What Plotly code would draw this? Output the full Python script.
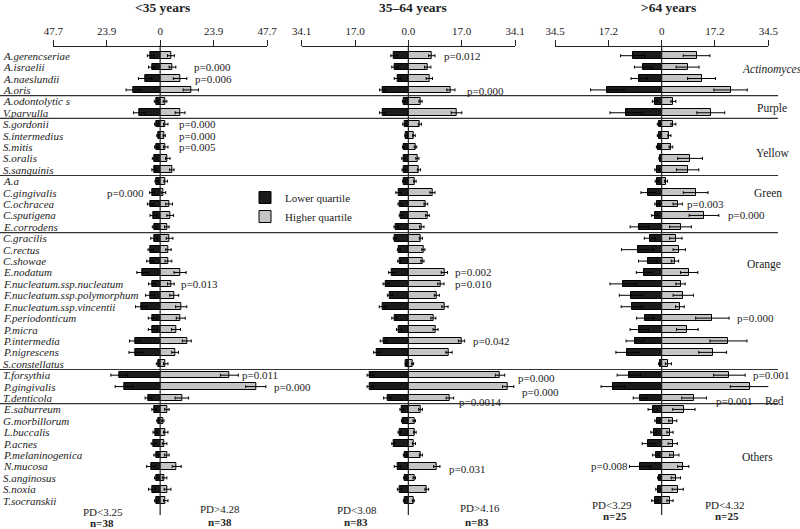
import plotly.graph_objects as go

# ---------------- data ----------------
species = ["A.gerencseriae", "A.israelii", "A.naeslundii", "A.oris", "A.odontolytic s", "V.parvulla",
           "S.gordonii", "S.intermedius", "S.mitis", "S.oralis", "S.sanguinis",
           "A.a", "C.gingivalis", "C.ochracea", "C.sputigena", "E.corrodens",
           "C.gracilis", "C.rectus", "C.showae", "E.nodatum", "F.nucleatum.ssp.nucleatum",
           "F.nucleatum.ssp.polymorphum", "F.nucleatum.ssp.vincentii", "F.periodonticum", "P.micra",
           "P.intermedia", "P.nigrescens", "S.constellatus",
           "T.forsythia", "P.gingivalis", "T.denticola",
           "E.saburreum", "G.morbillorum", "L.buccalis", "P.acnes", "P.melaninogenica", "N.mucosa",
           "S.anginosus", "S.noxia", "T.socranskii"]

group_names = ["Actinomyces", "Purple", "Yellow", "Green", "Orange", "Red", "Others"]
group_sizes = [4, 2, 5, 5, 12, 3, 9]

panel_titles = ["<35 years", "35–64 years", ">64 years"]

# <35 years
lo1 = [4.2, 3.7, 6.7, 11.9, 1.8, 9.2, 1.5, 1.0, 1.5, 2.5, 2.7, 1.5, 3.7, 4.2, 3.0, 2.5, 2.7, 4.2, 4.5, 7.9,
       3.7, 4.5, 8.5, 3.3, 3.3, 11.2, 10.9, 0.7, 18.3, 16.1, 5.2, 2.7, 1.0, 2.2, 3.0, 1.8, 4.0, 1.5, 3.7, 1.5]
hi1 = [4.8, 5.5, 8.9, 13.7, 2.2, 8.9, 2.5, 1.8, 2.5, 3.4, 5.2, 2.5, 1.5, 4.0, 4.5, 3.0, 4.2, 3.7, 3.7, 8.9,
       4.8, 6.3, 9.4, 9.2, 7.1, 11.9, 6.7, 2.5, 30.9, 42.7, 9.7, 3.0, 1.2, 2.5, 2.0, 3.0, 7.4, 2.0, 3.3, 2.5]
lo1_err = [1.5, 1.5, 3.0, 3.3, 0.8, 2.7, 1.0, 0.5, 1.0, 1.0, 1.0, 0.8, 1.0, 1.5, 1.5, 1.0, 1.5, 1.2, 1.5, 2.5,
           1.5, 2.0, 2.5, 2.0, 2.0, 2.5, 3.0, 1.0, 3.7, 4.0, 1.5, 1.0, 0.5, 1.0, 1.0, 1.0, 2.0, 1.0, 1.5, 1.0]
hi1_err = [1.5, 1.5, 3.0, 3.4, 0.8, 2.2, 1.0, 0.5, 1.0, 1.0, 1.0, 0.8, 1.0, 1.5, 1.5, 1.0, 1.5, 1.2, 1.5, 2.7,
           1.5, 2.0, 2.5, 2.0, 2.0, 2.0, 1.5, 1.0, 4.0, 4.5, 3.0, 1.0, 0.5, 1.0, 1.0, 1.0, 2.0, 1.0, 1.5, 1.0]

# 35-64 years
lo2 = [4.6, 4.3, 3.5, 8.2, 1.4, 8.2, 1.3, 0.7, 1.5, 1.6, 1.5, 1.4, 3.2, 2.7, 2.3, 3.9, 4.3, 3.0, 2.9, 5.3,
       7.1, 5.9, 8.3, 4.5, 3.0, 8.0, 10.1, 0.7, 12.2, 12.2, 6.7, 2.1, 1.8, 2.9, 4.8, 1.1, 3.5, 1.1, 2.9, 1.3]
hi2 = [7.5, 6.2, 6.7, 13.6, 3.9, 15.4, 3.7, 1.8, 2.3, 2.9, 3.4, 2.1, 7.7, 5.6, 6.1, 4.3, 4.0, 4.8, 4.5, 11.5,
       10.4, 9.1, 11.7, 8.0, 8.7, 17.0, 13.0, 1.4, 29.3, 31.9, 13.3, 3.9, 1.9, 2.1, 1.8, 4.0, 9.1, 1.9, 5.9, 1.6]
lo2_err = [1.0, 1.0, 1.0, 1.0, 0.5, 1.0, 0.5, 0.4, 0.4, 0.5, 0.5, 0.4, 0.8, 0.6, 0.6, 0.7, 0.5, 0.5, 0.5, 1.0,
           1.0, 0.8, 1.0, 0.8, 0.8, 1.0, 1.0, 0.3, 1.0, 1.0, 1.2, 0.6, 0.4, 0.4, 0.5, 0.5, 1.0, 0.4, 0.6, 0.3]
hi2_err = [1.0, 1.0, 1.0, 1.3, 0.5, 1.7, 0.5, 0.4, 0.4, 0.5, 0.5, 0.4, 0.8, 0.6, 0.6, 0.7, 0.5, 0.5, 0.5, 1.0,
           1.0, 0.8, 1.0, 0.8, 0.8, 1.0, 1.0, 0.3, 1.5, 1.8, 1.2, 0.6, 0.4, 0.4, 0.5, 0.5, 1.0, 0.4, 0.6, 0.3]

# >64 years
lo3 = [9.4, 5.9, 7.2, 17.6, 2.2, 11.5, 0.9, 0.9, 1.1, 0.5, 1.4, 1.6, 4.3, 1.4, 2.2, 7.2, 3.8, 7.8, 4.5, 5.7,
       12.4, 9.9, 9.7, 5.3, 7.2, 8.6, 11.1, 0.5, 10.6, 15.8, 7.0, 2.9, 1.4, 2.5, 4.3, 1.9, 7.0, 0.8, 1.1, 2.2]
hi3 = [11.3, 8.4, 12.9, 22.3, 3.8, 15.9, 3.8, 2.5, 3.0, 9.2, 8.4, 1.4, 11.0, 5.2, 13.7, 6.1, 4.6, 5.7, 4.3, 8.9,
       6.1, 7.0, 5.9, 16.4, 8.3, 21.6, 16.5, 2.2, 21.9, 28.6, 10.5, 7.2, 3.6, 2.7, 3.6, 4.1, 7.0, 4.6, 5.2, 2.7]
lo3_err = [3.9, 2.9, 2.7, 5.4, 0.8, 5.2, 0.5, 0.5, 0.6, 0.4, 0.8, 0.5, 2.4, 0.8, 1.0, 3.0, 1.8, 5.2, 3.0, 2.5,
           4.3, 3.8, 3.4, 2.8, 3.0, 2.9, 3.7, 0.5, 3.8, 3.8, 2.2, 1.5, 0.8, 1.0, 2.0, 1.0, 3.4, 0.5, 0.8, 1.0]
hi3_err = [4.3, 3.7, 4.5, 5.4, 0.8, 4.5, 0.8, 0.5, 0.6, 4.0, 3.6, 0.5, 4.0, 1.5, 4.8, 3.5, 2.0, 2.0, 1.2, 2.8,
           1.5, 3.3, 1.4, 5.4, 3.5, 6.0, 4.5, 1.0, 5.1, 6.4, 4.0, 3.6, 1.3, 1.0, 1.5, 1.5, 1.8, 1.5, 1.8, 1.0]

axis_max = [47.7, 34.1, 34.5]
tick_text = [["47.7", "23.9", "0", "23.9", "47.7"],
             ["34.1", "17.0", "0.0", "17.0", "34.1"],
             ["34.5", "17.2", "0", "17.2", "34.5"]]
tick_vals = [[-47.7, -23.9, 0, 23.9, 47.7],
             [-34.1, -17.0, 0, 17.0, 34.1],
             [-34.5, -17.2, 0, 17.2, 34.5]]

pd_low = ["PD<3.25", "PD<3.08", "PD<3.29"]
pd_high = ["PD>4.28", "PD>4.16", "PD<4.32"]
n_labels = ["n=38", "n=83", "n=25"]

# p-values: (species, text)
pvals1 = [("A.israelii", "p=0.000"), ("A.naeslundii", "p=0.006"), ("S.gordonii", "p=0.000"),
          ("S.intermedius", "p=0.000"), ("S.mitis", "p=0.005"), ("C.gingivalis", "p=0.000"),
          ("F.nucleatum.ssp.nucleatum", "p=0.013"), ("T.forsythia", "p=0.011"), ("P.gingivalis", "p=0.000")]
pvals2 = [("A.gerencseriae", "p=0.012"), ("A.oris", "p=0.000"), ("E.nodatum", "p=0.002"),
          ("F.nucleatum.ssp.nucleatum", "p=0.010"), ("P.intermedia", "p=0.042"), ("T.forsythia", "p=0.000"),
          ("P.gingivalis", "p=0.000"), ("T.denticola", "p=0.0014"), ("N.mucosa", "p=0.031")]
pvals3 = [("C.ochracea", "p=0.003"), ("C.sputigena", "p=0.000"), ("F.periodonticum", "p=0.000"),
          ("T.forsythia", "p=0.001"), ("T.denticola", "p=0.001"), ("N.mucosa", "p=0.008")]

# ---------------- layout constants ----------------
W, H = 800, 529
SERIF = "Liberation Serif"
TXT = "#222222"
DARK = "#1b1b1b"
LIGHT = "#c4c4c4"

def px_x(p):
    return p / W

def px_y(p):
    return 1 - p / H

row_top, row_step = 55.7, 11.41
n_rows = len(species)
span = H / row_step
y_top_val = -row_top / row_step
y_bot_val = y_top_val + span
idx = list(range(n_rows))
rowof = {s: i for i, s in enumerate(species)}

panel_px = [(53.3, 267.0), (301.7, 515.0), (555.0, 768.3)]
axis_line_px = 45.5
axes_names = ["x", "x2", "x3"]

fig = go.Figure()

data_sets = [(lo1, hi1, lo1_err, hi1_err), (lo2, hi2, lo2_err, hi2_err), (lo3, hi3, lo3_err, hi3_err)]
for p, (lo, hi, loe, hie) in enumerate(data_sets):
    fig.add_trace(go.Bar(
        y=idx, x=[-v for v in lo], orientation="h", width=0.58,
        marker=dict(color=DARK, line=dict(color="black", width=1)),
        error_x=dict(type="data", array=loe, color="black", thickness=1, width=1.5),
        name="Lower quartile", showlegend=(p == 0), legendgroup="lo",
        xaxis=axes_names[p], yaxis="y"))
    fig.add_trace(go.Bar(
        y=idx, x=hi, orientation="h", width=0.58,
        marker=dict(color=LIGHT, line=dict(color="black", width=1)),
        error_x=dict(type="data", array=hie, color="black", thickness=1, width=1.5),
        name="Higher quartile", showlegend=(p == 0), legendgroup="hi",
        xaxis=axes_names[p], yaxis="y"))

layout = dict(
    width=W, height=H, margin=dict(l=0, r=0, t=0, b=0, pad=0, autoexpand=False),
    paper_bgcolor="white", plot_bgcolor="rgba(0,0,0,0)",
    barmode="overlay", bargap=0,
    font=dict(family=SERIF, size=11, color=TXT),
    yaxis=dict(domain=[0, 1], range=[y_bot_val, y_top_val], visible=False, fixedrange=True,
               automargin=False),
    legend=dict(x=px_x(245), y=px_y(183), xanchor="left", yanchor="top",
                font=dict(family=SERIF, size=11, color=TXT), bgcolor="rgba(0,0,0,0)",
                itemwidth=30, tracegroupgap=0),
    showlegend=True,
)
for p in range(3):
    key = "xaxis" if p == 0 else f"xaxis{p + 1}"
    layout[key] = dict(
        domain=[px_x(panel_px[p][0]), px_x(panel_px[p][1])],
        range=[-axis_max[p], axis_max[p]], side="top", anchor="free", position=px_y(axis_line_px),
        tickmode="array", tickvals=tick_vals[p], ticktext=tick_text[p],
        ticks="outside", ticklen=6, tickwidth=1, tickcolor=TXT,
        showline=True, linecolor=TXT, linewidth=1, showgrid=False, zeroline=False, automargin=False,
        tickfont=dict(family=SERIF, size=11, color=TXT), fixedrange=True)
fig.update_layout(**layout)

shapes = []
for p in range(3):
    shapes.append(dict(type="line", xref=axes_names[p], yref="paper", x0=0, x1=0,
                       y0=px_y(515), y1=px_y(axis_line_px), line=dict(color=TXT, width=1.2)))
cum = 0
for g in group_sizes[:-1]:
    cum += g
    shapes.append(dict(type="line", xref="paper", yref="y", x0=0, x1=px_x(778),
                       y0=cum - 0.5, y1=cum - 0.5, line=dict(color="#333333", width=1.2)))
fig.update_layout(shapes=shapes)

ann = []
for i, s in enumerate(species):
    ann.append(dict(text=f"<i>{s}</i>", xref="paper", yref="y", x=px_x(1), y=i,
                    xanchor="left", yanchor="middle", showarrow=False,
                    font=dict(family=SERIF, size=11, color=TXT)))
title_x = [162, 413, 668]
for p in range(3):
    ann.append(dict(text=f"<b>{panel_titles[p]}</b>", xref="paper", yref="paper",
                    x=px_x(title_x[p]), y=px_y(7), xanchor="center", yanchor="middle",
                    showarrow=False, font=dict(family=SERIF, size=13.5, color=TXT)))
grp_pos = [(772, 1.25), (772, 4.6), (772, 8.5), (768, 12.0), (764, 18.3), (774, 30.3), (757, 35.2)]
for name, (gx, gy) in zip(group_names, grp_pos):
    txt = f"<i>{name}</i>" if name == "Actinomyces" else name
    ann.append(dict(text=txt, xref="paper", yref="y", x=px_x(gx), y=gy, xanchor="center",
                    yanchor="middle", showarrow=False, font=dict(family=SERIF, size=11.5, color=TXT)))
p_x = [[192, 193, 177, 177, 177, 105, 179, 240, 272],
       [442, 465, 453, 453, 471, 516, 520, 457, 447],
       [685, 726, 735, 751, 714, 589]]
p_dy = [[0, 0, 0, 0, 0, 0, 0, 0, 0],
        [0, 0.05, 0, 0, 0, 0.25, 0.5, 0.35, 0.2],
        [0, 0, 0, 0, 0.25, 0]]
for p, plist in enumerate([pvals1, pvals2, pvals3]):
    for k, (sp, txt) in enumerate(plist):
        ann.append(dict(text=txt, xref="paper", yref="y", x=px_x(p_x[p][k]), y=rowof[sp] + p_dy[p][k],
                        xanchor="left", yanchor="middle", showarrow=False,
                        font=dict(family=SERIF, size=11, color=TXT)))
pd_lo_x = [103, 357, 612]
pd_hi_x = [220, 480, 725]
n_lo_x = [102, 356, 615]
n_hi_x = [220, 477, 727]
pd_y = [[512, 509], [510, 508], [505, 505]]
n_y = [[523, 522], [522, 522], [516, 516]]
for p in range(3):
    ann.append(dict(text=pd_low[p], xref="paper", yref="paper", x=px_x(pd_lo_x[p]), y=px_y(pd_y[p][0]),
                    xanchor="center", yanchor="middle", showarrow=False,
                    font=dict(family=SERIF, size=11, color=TXT)))
    ann.append(dict(text=pd_high[p], xref="paper", yref="paper", x=px_x(pd_hi_x[p]), y=px_y(pd_y[p][1]),
                    xanchor="center", yanchor="middle", showarrow=False,
                    font=dict(family=SERIF, size=11, color=TXT)))
    ann.append(dict(text=f"<b>{n_labels[p]}</b>", xref="paper", yref="paper", x=px_x(n_lo_x[p]),
                    y=px_y(n_y[p][0]), xanchor="center", yanchor="middle", showarrow=False,
                    font=dict(family=SERIF, size=11, color=TXT)))
    ann.append(dict(text=f"<b>{n_labels[p]}</b>", xref="paper", yref="paper", x=px_x(n_hi_x[p]),
                    y=px_y(n_y[p][1]), xanchor="center", yanchor="middle", showarrow=False,
                    font=dict(family=SERIF, size=11, color=TXT)))
fig.update_layout(annotations=ann)

fig.write_html("out.html", include_plotlyjs=True, config={"displayModeBar": False},
               post_script="document.body.style.margin='0';document.body.style.overflow='hidden';")
